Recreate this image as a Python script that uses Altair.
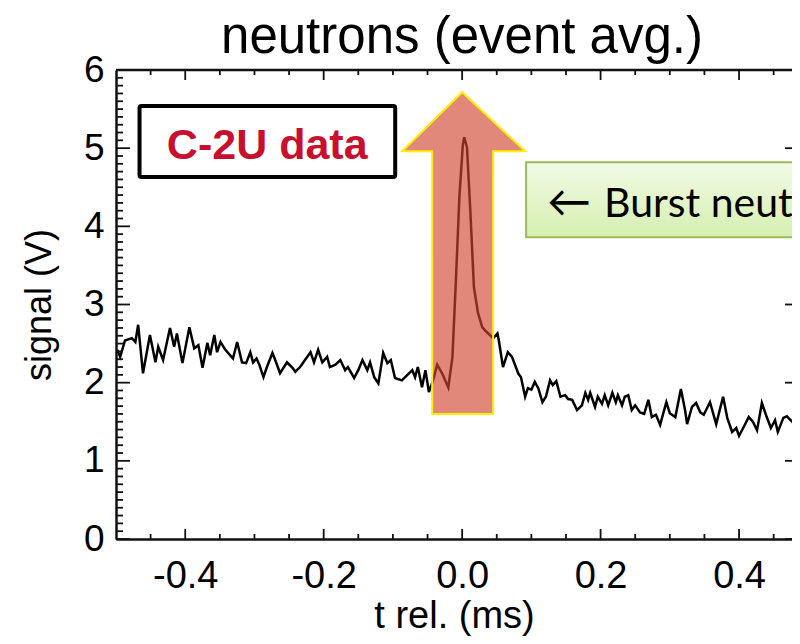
import altair as alt
import pandas as pd

# ---- data ----
t_ms = [-0.498, -0.494, -0.487, -0.477, -0.472, -0.468, -0.461, -0.451, -0.443, -0.439,
        -0.432, -0.422, -0.416, -0.412, -0.404, -0.394, -0.387, -0.381, -0.375, -0.368,
        -0.364, -0.358, -0.354, -0.349, -0.342, -0.335, -0.331, -0.325, -0.318, -0.312,
        -0.306, -0.302, -0.297, -0.293, -0.287, -0.282, -0.274, -0.270, -0.263, -0.253,
        -0.245, -0.241, -0.234, -0.227, -0.219, -0.214, -0.208, -0.202, -0.195, -0.191,
        -0.183, -0.176, -0.169, -0.165, -0.156, -0.150, -0.144, -0.137, -0.133, -0.127,
        -0.121, -0.114, -0.108, -0.103, -0.097, -0.087, -0.079, -0.072, -0.068, -0.064,
        -0.058, -0.053, -0.048, -0.042, -0.036, -0.029, -0.020, -0.014, -0.009, -0.004,
        0.001, 0.003, 0.007, 0.012, 0.017, 0.023, 0.029, 0.033, 0.040, 0.045,
        0.051, 0.053, 0.059, 0.066, 0.072, 0.081, 0.085, 0.091, 0.095, 0.100,
        0.105, 0.110, 0.116, 0.121, 0.127, 0.131, 0.136, 0.142, 0.149, 0.153,
        0.159, 0.166, 0.173, 0.178, 0.182, 0.185, 0.192, 0.196, 0.202, 0.206,
        0.211, 0.217, 0.222, 0.225, 0.231, 0.235, 0.240, 0.245, 0.250, 0.257,
        0.263, 0.269, 0.274, 0.280, 0.286, 0.295, 0.300, 0.308, 0.316, 0.322,
        0.325, 0.332, 0.338, 0.344, 0.349, 0.358, 0.367, 0.377, 0.383, 0.390,
        0.396, 0.400, 0.406, 0.414, 0.420, 0.426, 0.433, 0.440, 0.446, 0.452,
        0.456, 0.464, 0.469, 0.477, 0.481, 0.487, 0.494, 0.500]
signal_v = [2.42, 2.33, 2.54, 2.57, 2.52, 2.74, 2.12, 2.61, 2.26, 2.46,
            2.29, 2.70, 2.46, 2.63, 2.25, 2.71, 2.44, 2.48, 2.19, 2.51,
            2.35, 2.61, 2.39, 2.52, 2.42, 2.35, 2.31, 2.52, 2.26, 2.25,
            2.39, 2.26, 2.31, 2.23, 2.07, 2.20, 2.38, 2.29, 2.12, 2.26,
            2.19, 2.14, 2.20, 2.29, 2.39, 2.26, 2.42, 2.26, 2.33, 2.20,
            2.23, 2.29, 2.16, 2.20, 2.06, 2.16, 2.29, 2.16, 2.26, 2.07,
            1.99, 2.38, 2.25, 2.29, 2.06, 2.03, 2.10, 2.16, 2.07, 2.20,
            1.94, 2.16, 1.88, 2.03, 2.23, 2.12, 1.94, 2.33, 3.31, 4.37,
            5.04, 5.14, 5.01, 4.17, 3.22, 2.89, 2.71, 2.67, 2.61, 2.57,
            2.63, 2.54, 2.20, 2.39, 2.33, 2.12, 2.07, 1.82, 1.93, 1.91,
            2.01, 1.93, 1.75, 1.82, 2.03, 1.97, 2.02, 1.82, 1.84, 1.79,
            1.78, 1.65, 1.71, 1.87, 1.78, 1.87, 1.69, 1.82, 1.73, 1.84,
            1.71, 1.87, 1.75, 1.84, 1.71, 1.82, 1.84, 1.65, 1.71, 1.62,
            1.60, 1.78, 1.56, 1.59, 1.46, 1.75, 1.61, 1.56, 1.92, 1.65,
            1.47, 1.69, 1.74, 1.62, 1.59, 1.75, 1.47, 1.82, 1.55, 1.37,
            1.42, 1.32, 1.42, 1.56, 1.50, 1.39, 1.74, 1.56, 1.42, 1.52,
            1.37, 1.55, 1.57, 1.50, 1.43, 1.46, 1.52, 1.46]

title_text = ["neutrons (event avg.)"]
x_title = "t rel. (ms)"
y_title = "signal (V)"
x_label_values = [-0.4, -0.2, 0.0, 0.2, 0.4]
y_label_values = [0, 1, 2, 3, 4, 5, 6]
x_minor_values = [-0.45, -0.35, -0.3, -0.25, -0.15, -0.1, -0.05, 0.05, 0.1, 0.15,
                  0.25, 0.3, 0.35, 0.45]
y_minor_values = [round(i * 0.1, 1) for i in range(1, 60) if i % 10 != 0]

# annotations (data coordinates)
c2u_text = ["C-2U data"]
c2u_box_t = [-0.466, -0.0967]
c2u_box_v = [5.54, 4.63]
c2u_text_pos = [-0.2816, 4.86]

burst_arrow_text = ["\u2190"]
burst_text = ["Burst neutrons"]
burst_box_t = [0.0924, 0.70]
burst_box_v = [4.82, 3.86]
burst_arrow_pos = [0.1227, 4.12]
burst_text_pos = [0.205, 4.12]

# up-arrow outline, as top / bottom edges along t
arrow_t = [-0.0866, -0.0433, -0.04329, 0.0, 0.0448, 0.04481, 0.091]
arrow_top = [4.96, 5.338, 5.338, 5.716, 5.344, 5.344, 4.96]
arrow_bottom = [4.96, 4.96, 1.60, 1.60, 1.60, 4.96, 4.96]

# ---- layout ----
W, H = 676, 469
xs = alt.Scale(domain=[-0.5, 0.4765], nice=False, zero=False)
ys = alt.Scale(domain=[0, 6], nice=False, zero=False)
FONT = "Liberation Sans"
AX = "#111111"

x_axis = alt.Axis(
    values=x_label_values,
    labelExpr="datum.value < 0 ? '-' + format(-datum.value, '.1f') : format(datum.value, '.1f')",
    title=x_title, ticks=False, grid=False, domain=True, domainColor=AX, domainWidth=2.5,
    labelFont=FONT, labelFontSize=38, labelColor="black", labelPadding=18,
    titleFont=FONT, titleFontSize=38, titleFontWeight="normal", titleColor="black",
    titlePadding=2, labelFlush=False)
y_axis = alt.Axis(
    values=y_label_values, format="d",
    title=y_title, ticks=False, grid=False, domain=True, domainColor=AX, domainWidth=2.5,
    labelFont=FONT, labelFontSize=37, labelColor="black", labelPadding=12,
    titleFont=FONT, titleFontSize=36, titleFontWeight="normal", titleColor="black",
    titlePadding=25, labelFlush=False)


def X(f):
    return alt.X(f, scale=xs, axis=x_axis)


def Y(f):
    return alt.Y(f, scale=ys, axis=y_axis)


df = pd.DataFrame({"t": t_ms, "v": signal_v})

line = alt.Chart(df).mark_line(color="black", strokeWidth=2.5, clip=True).encode(
    x=X("t:Q"), y=Y("v:Q"))


def tick_layer(values, field, p0, p1, width=1.8):
    d = pd.DataFrame({field: values})
    if field == "v":
        enc = dict(y=Y("v:Q"), x=alt.value(p0), x2=alt.value(p1))
    else:
        enc = dict(x=X("t:Q"), y=alt.value(p0), y2=alt.value(p1))
    return alt.Chart(d).mark_rule(color=AX, strokeWidth=width).encode(**enc)


ticks = [
    tick_layer(y_label_values, "v", 0, 14),
    tick_layer(y_minor_values, "v", 0, 7),
    tick_layer(y_label_values, "v", W - 7, W),
    tick_layer(x_label_values, "t", H, H - 10),
    tick_layer(x_minor_values, "t", H, H - 5),
    tick_layer(x_label_values, "t", 0, 10),
    tick_layer(x_minor_values, "t", 0, 5),
]

top_frame = alt.Chart(pd.DataFrame({"a": [0]})).mark_rule(color=AX, strokeWidth=2.5).encode(
    x=alt.value(0), x2=alt.value(W), y=alt.value(0))

title = alt.Chart(pd.DataFrame({"s": title_text})).mark_text(
    font=FONT, fontSize=51, color="black", align="center", baseline="alphabetic"
).encode(x=alt.value(346), y=alt.value(-17), text="s:N")

arrow_df = pd.DataFrame({"t": arrow_t, "top": arrow_top, "bot": arrow_bottom})
arrow_shadow = alt.Chart(arrow_df).mark_area(
    color="#000000", opacity=0.10, interpolate="linear", dx=3, dy=4
).encode(x=X("t:Q"), y=Y("top:Q"), y2="bot:Q")
arrow = alt.Chart(arrow_df).mark_area(
    fill="#DE4A33", fillOpacity=0.6, stroke="#FFEE00", strokeWidth=2,
    strokeJoin="miter", interpolate="linear"
).encode(x=X("t:Q"), y=Y("top:Q"), y2="bot:Q")

c2u_box = alt.Chart(pd.DataFrame({"t1": [c2u_box_t[0]], "t2": [c2u_box_t[1]],
                                  "v1": [c2u_box_v[0]], "v2": [c2u_box_v[1]]})).mark_rect(
    fill="white", stroke="black", strokeWidth=4, cornerRadius=2
).encode(x=X("t1:Q"), x2="t2:Q", y=Y("v1:Q"), y2="v2:Q")
c2u_label = alt.Chart(pd.DataFrame({"t": [c2u_text_pos[0]], "v": [c2u_text_pos[1]],
                                    "s": c2u_text})).mark_text(
    font=FONT, fontSize=43, fontWeight="bold", color="#C8102E", align="center",
    baseline="alphabetic"
).encode(x=X("t:Q"), y=Y("v:Q"), text="s:N")

green_fill = alt.Gradient(
    gradient="linear",
    stops=[alt.GradientStop(color="#F2FAE6", offset=0),
           alt.GradientStop(color="#D5EFB0", offset=1)],
    x1=0, x2=0, y1=0, y2=1)
box_df = pd.DataFrame({"t1": [burst_box_t[0]], "t2": [burst_box_t[1]],
                       "v1": [burst_box_v[0]], "v2": [burst_box_v[1]]})
burst_shadow = alt.Chart(box_df).mark_rect(
    color="#000000", opacity=0.12, clip=True, dx=2, dy=3
).encode(x=X("t1:Q"), x2="t2:Q", y=Y("v1:Q"), y2="v2:Q")
burst_box = alt.Chart(box_df).mark_rect(
    fill=green_fill, stroke="#9BBB59", strokeWidth=2, clip=True
).encode(x=X("t1:Q"), x2="t2:Q", y=Y("v1:Q"), y2="v2:Q")
burst_arrow = alt.Chart(pd.DataFrame({"t": [burst_arrow_pos[0]], "v": [burst_arrow_pos[1]],
                                      "s": burst_arrow_text})).mark_text(
    font="Lato", fontSize=44, color="black", align="left", baseline="alphabetic", clip=True
).encode(x=X("t:Q"), y=Y("v:Q"), text="s:N")
burst_label = alt.Chart(pd.DataFrame({"t": [burst_text_pos[0]], "v": [burst_text_pos[1]],
                                      "s": burst_text})).mark_text(
    font="Lato", fontSize=41, color="black", align="left", baseline="alphabetic", clip=True
).encode(x=X("t:Q"), y=Y("v:Q"), text="s:N")

chart = alt.layer(
    line, *ticks, top_frame, title, arrow_shadow, arrow, c2u_box, c2u_label,
    burst_shadow, burst_box, burst_arrow, burst_label
).properties(
    width=W, height=H,
    autosize=alt.AutoSizeParams(type="none"),
    padding={"left": 108, "top": 62, "right": 0, "bottom": 97},
).configure_view(stroke=None).configure(background="white")

chart.save("out.html", embed_options={"renderer": "svg", "actions": False})
